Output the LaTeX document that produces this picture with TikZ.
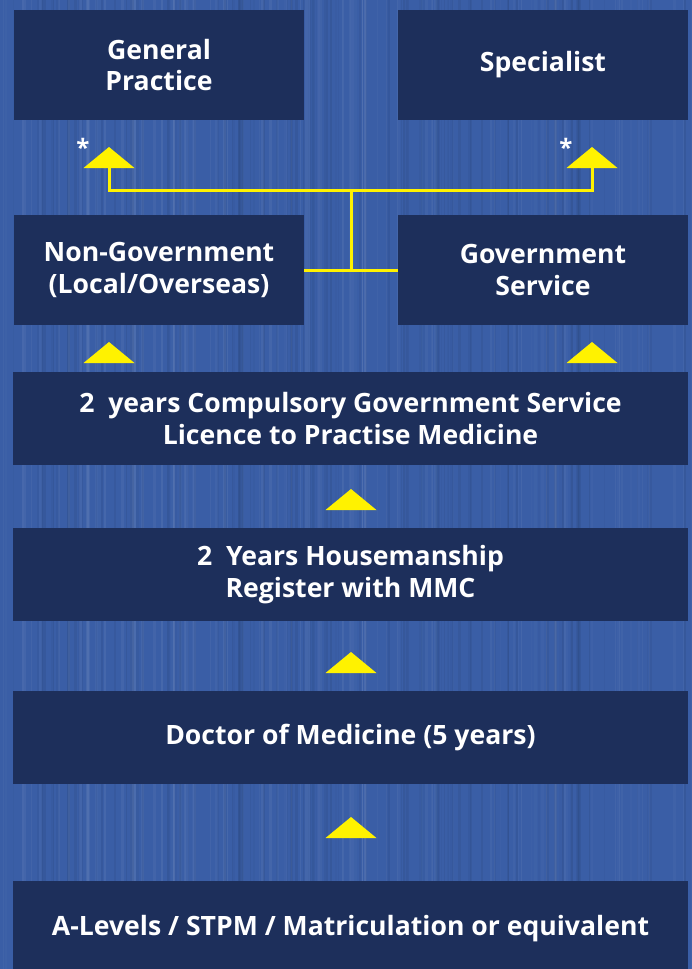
\documentclass[tikz,border=0pt]{standalone}
\usepackage{fontspec}
\setmainfont{Open Sans}
\definecolor{bgblue}{HTML}{3A5EA6}
\definecolor{boxblue}{HTML}{1D2F5B}
\definecolor{tri}{HTML}{FFF200}
\tikzset{
  stage/.style={fill=boxblue, draw=none, align=center, text=white,
    font=\fontsize{26.6}{31.5}\selectfont\bfseries, inner sep=0pt},
  halfbox/.style={stage, minimum width=290pt, minimum height=110pt},
  widebox/.style={stage, minimum width=675pt, minimum height=93pt},
  link/.style={draw=tri, line width=3pt},
  star/.style={text=white, font=\fontsize{24}{24}\selectfont\bfseries, inner sep=0pt}
}
\newcommand\uptri[1]{\fill[tri] ([xshift=-25.5pt]#1) -- ([xshift=25.5pt]#1) -- ([yshift=21pt]#1) -- cycle;}
\begin{document}
\begin{tikzpicture}[x=1pt,y=-1pt]
\useasboundingbox (0,0) rectangle (692,969);
\fill[bgblue] (0,0) rectangle (692,969);
\pgfmathsetseed{7}
\foreach \i in {0,...,200}{
  \pgfmathsetmacro{\xx}{rnd*692}
  \pgfmathsetmacro{\ww}{0.5+rnd*3}
  \pgfmathsetmacro{\op}{0.015+rnd*0.05}
  \pgfmathsetmacro{\sh}{rnd}
  \ifdim\sh pt>0.5pt
    \fill[white, opacity=\op] (\xx,0) rectangle ++(\ww,969);
  \else
    \fill[black, opacity=\op] (\xx,0) rectangle ++(\ww,969);
  \fi
}
\node[halfbox] (gp) at (159,65) {General\\Practice};
\node[halfbox] (sp) at (543,65) {Specialist};
\node[halfbox] (ng) at (159,270) {Non-Government\\(Local/Overseas)};
\node[halfbox] (gs) at (543,270) {Government\\Service};
\node[widebox] (cgs) at (350.5,418.5) {2\ \ years Compulsory Government Service\\Licence to Practise Medicine};
\node[widebox] (hm) at (350.5,574.5) {2\ \ Years Housemanship\\Register with MMC};
\node[widebox] (dm) at (350.5,737.5) {Doctor of Medicine (5 years)};
\node[widebox, minimum height=96pt] (al) at (350.5,929) {A-Levels / STPM / Matriculation or equivalent};
\coordinate (t1) at (109,168);
\coordinate (t2) at (592,168);
\coordinate (t3) at (109,363);
\coordinate (t4) at (592,363);
\coordinate (t5) at (351,510);
\coordinate (t6) at (351,673);
\coordinate (t7) at (351,838);
\coordinate (jn) at (351,190);
\node[star] (s1) at (83,147) {*};
\node[star] (s2) at (566,147) {*};
\draw[link] (ng.east) -- (gs.west);
\draw[link] (jn) -- (jn |- ng.east);
\draw[link, line join=miter] (t1) -- (t1 |- jn) -- (t2 |- jn) -- (t2);
\uptri{t1}
\uptri{t2}
\uptri{t3}
\uptri{t4}
\uptri{t5}
\uptri{t6}
\uptri{t7}
\end{tikzpicture}
\end{document}
